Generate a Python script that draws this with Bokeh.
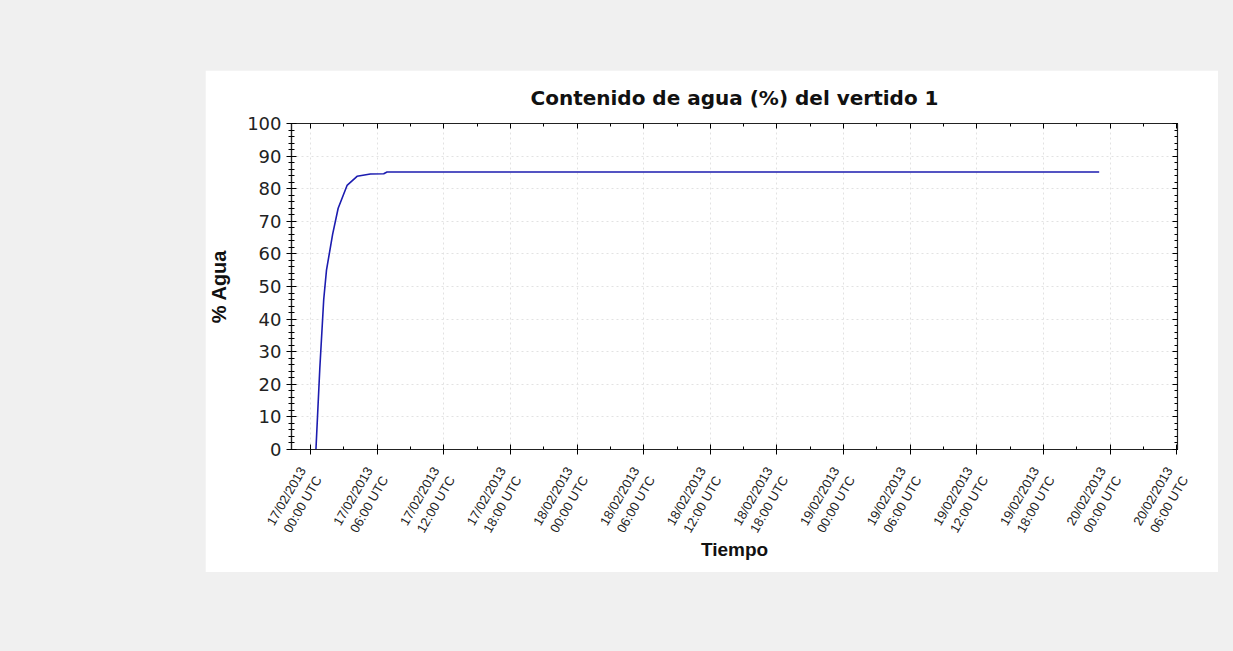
import math
from bokeh.plotting import figure
from bokeh.models import FixedTicker, LinearAxis, Spacer
from bokeh.layouts import column, row
from bokeh.embed import file_html
from bokeh.resources import INLINE

# ---- data (hours since 17/02/2013 00:00 UTC) ----
tiempo_h = [0.5, 0.85, 1.2, 1.45, 2.0, 2.5, 3.3, 4.2, 5.4, 6.6, 6.9, 71.0]
agua_pct = [0.0, 25.0, 46.0, 55.0, 66.0, 74.0, 81.0, 83.8, 84.5, 84.6, 85.1, 85.1]

tick_hours = [0, 6, 12, 18, 24, 30, 36, 42, 48, 54, 60, 66, 72, 78]
tick_labels = [
    "17/02/2013\n00:00 UTC", "17/02/2013\n06:00 UTC", "17/02/2013\n12:00 UTC",
    "17/02/2013\n18:00 UTC", "18/02/2013\n00:00 UTC", "18/02/2013\n06:00 UTC",
    "18/02/2013\n12:00 UTC", "18/02/2013\n18:00 UTC", "19/02/2013\n00:00 UTC",
    "19/02/2013\n06:00 UTC", "19/02/2013\n12:00 UTC", "19/02/2013\n18:00 UTC",
    "20/02/2013\n00:00 UTC", "20/02/2013\n06:00 UTC",
]
y_ticks = [0, 10, 20, 30, 40, 50, 60, 70, 80, 90, 100]

FONT = "Liberation Sans"
WIDE = "DejaVu Sans"

p = figure(width=1013, height=502, x_range=(-1.7, 78.05), y_range=(0, 100),
           output_backend="svg", toolbar_location=None,
           title="Contenido de agua (%) del vertido 1",
           min_border_left=85, min_border_right=41, min_border_top=52,
           min_border_bottom=123, background_fill_color="white",
           border_fill_color="white")

p.title.text_font = WIDE
p.title.text_font_size = "20px"
p.title.text_font_style = "bold"
p.title.align = "center"
p.title.text_color = "#111111"
p.title.standoff = 27

p.line(tiempo_h, agua_pct, line_color="#1c1cb0", line_width=1.6)

p.outline_line_color = "#222222"
p.outline_line_width = 1.2

minor_x = [h + 3 for h in tick_hours]
minor_y = list(range(0, 101, 2))
xt = FixedTicker(ticks=tick_hours, minor_ticks=minor_x)
yt = FixedTicker(ticks=y_ticks, minor_ticks=minor_y)

xa = p.xaxis[0]
xa.ticker = xt
xa.major_label_overrides = {h: lab for h, lab in zip(tick_hours, tick_labels)}
xa.major_label_orientation = math.pi / 3
xa.major_label_text_font = FONT
xa.major_label_text_font_size = "13px"
xa.major_label_text_color = "#222222"
xa.major_label_standoff = 18
xa.axis_label = "Tiempo"
xa.axis_label_text_font = FONT
xa.axis_label_text_font_size = "19px"
xa.axis_label_text_font_style = "bold"
xa.axis_label_text_color = "#111111"
xa.axis_label_standoff = -9
xa.major_tick_in = 5
xa.major_tick_out = 5
xa.minor_tick_in = 3
xa.minor_tick_out = 0
xa.axis_line_color = "#222222"
xa.axis_line_width = 1.2

ya = p.yaxis[0]
ya.ticker = yt
ya.major_label_text_font = WIDE
ya.major_label_text_font_size = "18px"
ya.major_label_text_color = "#222222"
ya.axis_label = "% Agua"
ya.axis_label_text_font = FONT
ya.axis_label_text_font_size = "20px"
ya.axis_label_text_font_style = "bold"
ya.axis_label_text_color = "#111111"
ya.axis_label_standoff = 14
ya.major_tick_in = 5
ya.major_tick_out = 5
ya.minor_tick_in = 3
ya.minor_tick_out = 3
ya.axis_line_color = "#222222"
ya.axis_line_width = 1.2

top = LinearAxis(ticker=FixedTicker(ticks=tick_hours, minor_ticks=minor_x),
                 major_label_text_color=None, major_tick_in=5, major_tick_out=0,
                 minor_tick_in=3, minor_tick_out=0, axis_line_color="#222222")
right = LinearAxis(ticker=FixedTicker(ticks=y_ticks, minor_ticks=minor_y),
                   major_label_text_color=None, major_tick_in=5, major_tick_out=0,
                   minor_tick_in=3, minor_tick_out=0, axis_line_color="#222222")
p.add_layout(top, "above")
p.add_layout(right, "right")

p.xgrid.ticker = xt
p.ygrid.ticker = yt
p.xgrid.grid_line_color = "#e2e2e2"
p.ygrid.grid_line_color = "#e2e2e2"
p.xgrid.grid_line_dash = "2 3"
p.ygrid.grid_line_dash = "2 3"

layout = column(
    Spacer(width=1233, height=70),
    row(Spacer(width=205, height=502), p),
    Spacer(width=1233, height=79),
    styles={"background-color": "#f0f0f0"},
)

open("out.html", "w").write(file_html(layout, INLINE))
